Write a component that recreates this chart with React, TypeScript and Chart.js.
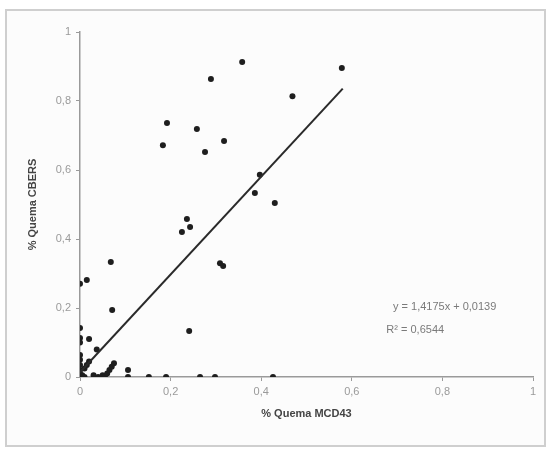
import React, { useEffect, useRef } from "react";
import { Chart, registerables } from "chart.js";

Chart.register(...registerables);

const mcd43X: number[] = [
  0.358, 0.289, 0.578, 0.469, 0.192, 0.258, 0.183, 0.318, 0.276,
  0.397, 0.386, 0.43, 0.236, 0.243, 0.225, 0.309, 0.316,
  0.241, 0.068, 0.015, 0, 0.071, 0, 0, 0, 0.02, 0, 0.037,
  0.426, 0.152, 0.19, 0.265, 0.298, 0.106, 0.106,
  0, 0, 0, 0, 0, 0.005, 0.01, 0.01, 0.015, 0.02, 0.03, 0.04, 0.05, 0.055, 0.06, 0.065, 0.07, 0.075,
];
const cbersY: number[] = [
  0.913, 0.864, 0.896, 0.814, 0.736, 0.719, 0.672, 0.684, 0.652,
  0.586, 0.533, 0.504, 0.458, 0.435, 0.42, 0.33, 0.322,
  0.133, 0.333, 0.281, 0.27, 0.194, 0.142, 0.113, 0.1, 0.11, 0.064, 0.08,
  0, 0, 0, 0, 0, 0, 0.02,
  0, 0.01, 0.02, 0.035, 0.05, 0.005, 0, 0.025, 0.035, 0.045, 0.005, 0, 0.005, 0, 0.01, 0.02, 0.03, 0.04,
];
const slope = 1.4175;
const intercept = 0.0139;
const trendXRange: number[] = [0, 0.58];
const equationText = "y = 1,4175x + 0,0139";
const r2Text = "R² = 0,6544";
const xTitle = "% Quema MCD43";
const yTitle = "% Quema CBERS";

const fmt = (v: number | string) => String(Number(v).toFixed(1)).replace(/\.0$/, "").replace(".", ",");

export default function App() {
  const ref = useRef<HTMLCanvasElement | null>(null);
  useEffect(() => {
    if (!ref.current) return;
    const framePlugin = {
      id: "frame",
      beforeDraw(chart: any) {
        const ctx = chart.ctx;
        ctx.save();
        ctx.fillStyle = "#ffffff";
        ctx.fillRect(0, 0, chart.width, chart.height);
        ctx.fillStyle = "#fcfcfc";
        ctx.fillRect(6, 10, 539, 436);
        ctx.strokeStyle = "#cfcfcf";
        ctx.lineWidth = 2;
        ctx.strokeRect(6, 10, 539, 436);
        ctx.restore();
      },
      afterDatasetsDraw(chart: any) {
        const ctx = chart.ctx;
        const xs = chart.scales.x;
        const ys = chart.scales.y;
        ctx.save();
        ctx.fillStyle = "#7a7a7a";
        ctx.font = "11px 'Liberation Sans', Arial, sans-serif";
        ctx.textAlign = "center";
        ctx.textBaseline = "middle";
        ctx.fillText(equationText, xs.getPixelForValue(0.805), ys.getPixelForValue(0.203));
        ctx.fillText(r2Text, xs.getPixelForValue(0.74), ys.getPixelForValue(0.136));
        ctx.restore();
      },
    };
    const chart = new Chart(ref.current, {
      type: "scatter",
      data: {
        datasets: [
          {
            type: "line",
            data: trendXRange.map((x) => ({ x, y: slope * x + intercept })),
            borderColor: "#2a2a2a",
            borderWidth: 2,
            pointRadius: 0,
            fill: false,
          } as any,
          {
            data: mcd43X.map((x, i) => ({ x, y: cbersY[i] })),
            backgroundColor: "#1e1e1e",
            borderColor: "#1e1e1e",
            pointRadius: 3,
            pointBorderWidth: 0,
          },
        ],
      },
      plugins: [framePlugin],
      options: {
        animation: false,
        responsive: false,
        events: [],
        layout: { padding: { left: 14, right: 19, top: 32, bottom: 22 } },
        plugins: { legend: { display: false }, tooltip: { enabled: false } },
        scales: {
          x: {
            type: "linear",
            min: 0,
            max: 1,
            ticks: {
              stepSize: 0.2,
              color: "#9a9a9a",
              font: { size: 11, family: "'Liberation Sans', Arial, sans-serif" },
              padding: 4,
              callback: (v: any) => fmt(v),
            },
            grid: { display: true, drawOnChartArea: false, drawTicks: true, tickLength: 4, color: "#9a9a9a" },
            border: { color: "#9a9a9a", width: 1.5 },
            title: {
              display: true,
              text: xTitle,
              color: "#444",
              font: { size: 11, weight: "bold", family: "'Liberation Sans', Arial, sans-serif" },
              padding: { top: 0, bottom: 8 },
            },
            afterFit: (s: any) => { s.height = 52; },
          },
          y: {
            type: "linear",
            min: 0,
            max: 1,
            ticks: {
              stepSize: 0.2,
              color: "#9a9a9a",
              font: { size: 11, family: "'Liberation Sans', Arial, sans-serif" },
              padding: 5,
              callback: (v: any) => fmt(v),
            },
            grid: { display: true, drawOnChartArea: false, drawTicks: true, tickLength: 4, color: "#9a9a9a" },
            border: { color: "#9a9a9a", width: 1.5 },
            title: {
              display: true,
              text: yTitle,
              color: "#444",
              font: { size: 11, weight: "bold", family: "'Liberation Sans', Arial, sans-serif" },
              padding: { top: 12, bottom: 0 },
            },
            afterFit: (s: any) => { s.width = 66; },
          },
        },
      },
    } as any);
    return () => chart.destroy();
  }, []);
  return (
    <div style={{ position: "fixed", left: 0, top: 0, width: 552, height: 451 }}>
      <canvas ref={ref} width={552} height={451} style={{ width: 552, height: 451, display: "block" }} />
    </div>
  );
}
